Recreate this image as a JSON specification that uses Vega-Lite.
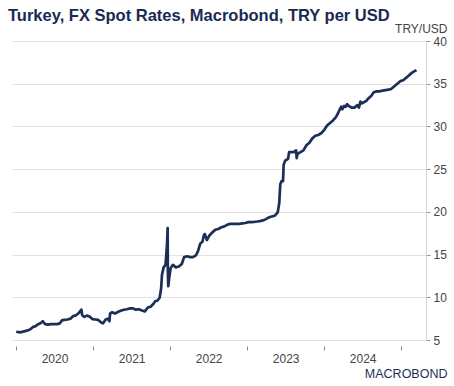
{
  "$schema": "https://vega.github.io/schema/vega-lite/v6.json",
  "width": 414,
  "height": 299,
  "autosize": "none",
  "padding": {"left": 12, "top": 41, "right": 28, "bottom": 46},
  "background": "white",
  "title": {
    "text": "Turkey, FX Spot Rates, Macrobond, TRY per USD",
    "anchor": "start",
    "frame": "group",
    "dx": -4,
    "offset": -2,
    "font": "Liberation Sans",
    "fontSize": 16.5,
    "fontWeight": "bold",
    "color": "#1a2b52"
  },
  "config": {
    "view": {"stroke": null},
    "axis": {"labelFont": "Liberation Sans", "titleFont": "Liberation Sans"}
  },
  "data": {
    "values": [
      {"date": "2020-01-02", "rate": 5.97},
      {"date": "2020-01-20", "rate": 5.90},
      {"date": "2020-02-03", "rate": 5.98},
      {"date": "2020-02-17", "rate": 6.07},
      {"date": "2020-03-02", "rate": 6.17},
      {"date": "2020-03-16", "rate": 6.40},
      {"date": "2020-03-23", "rate": 6.55},
      {"date": "2020-04-01", "rate": 6.60},
      {"date": "2020-04-15", "rate": 6.85},
      {"date": "2020-04-28", "rate": 7.00},
      {"date": "2020-05-07", "rate": 7.20},
      {"date": "2020-05-18", "rate": 6.85},
      {"date": "2020-06-01", "rate": 6.80},
      {"date": "2020-06-15", "rate": 6.85},
      {"date": "2020-07-01", "rate": 6.85},
      {"date": "2020-07-15", "rate": 6.86},
      {"date": "2020-07-27", "rate": 6.95},
      {"date": "2020-08-06", "rate": 7.30},
      {"date": "2020-08-17", "rate": 7.35},
      {"date": "2020-09-01", "rate": 7.40},
      {"date": "2020-09-15", "rate": 7.50},
      {"date": "2020-09-28", "rate": 7.80},
      {"date": "2020-10-12", "rate": 7.90},
      {"date": "2020-10-26", "rate": 8.20},
      {"date": "2020-11-06", "rate": 8.55},
      {"date": "2020-11-10", "rate": 7.90},
      {"date": "2020-11-20", "rate": 7.70},
      {"date": "2020-12-01", "rate": 7.85},
      {"date": "2020-12-15", "rate": 7.75},
      {"date": "2020-12-28", "rate": 7.45},
      {"date": "2021-01-11", "rate": 7.40},
      {"date": "2021-01-25", "rate": 7.35},
      {"date": "2021-02-08", "rate": 7.05},
      {"date": "2021-02-17", "rate": 6.95},
      {"date": "2021-03-01", "rate": 7.40},
      {"date": "2021-03-12", "rate": 7.50},
      {"date": "2021-03-19", "rate": 7.20},
      {"date": "2021-03-22", "rate": 8.10},
      {"date": "2021-04-01", "rate": 8.25},
      {"date": "2021-04-15", "rate": 8.10},
      {"date": "2021-04-30", "rate": 8.30},
      {"date": "2021-05-14", "rate": 8.45},
      {"date": "2021-05-28", "rate": 8.55},
      {"date": "2021-06-10", "rate": 8.60},
      {"date": "2021-06-25", "rate": 8.70},
      {"date": "2021-07-09", "rate": 8.70},
      {"date": "2021-07-23", "rate": 8.55},
      {"date": "2021-08-06", "rate": 8.60},
      {"date": "2021-08-20", "rate": 8.45},
      {"date": "2021-09-03", "rate": 8.35},
      {"date": "2021-09-17", "rate": 8.80},
      {"date": "2021-09-30", "rate": 8.90},
      {"date": "2021-10-14", "rate": 9.25},
      {"date": "2021-10-22", "rate": 9.55},
      {"date": "2021-11-01", "rate": 9.60},
      {"date": "2021-11-12", "rate": 9.95},
      {"date": "2021-11-19", "rate": 11.0},
      {"date": "2021-11-23", "rate": 12.6},
      {"date": "2021-12-01", "rate": 13.5},
      {"date": "2021-12-10", "rate": 13.8},
      {"date": "2021-12-17", "rate": 16.2},
      {"date": "2021-12-20", "rate": 18.1},
      {"date": "2021-12-21", "rate": 13.0},
      {"date": "2021-12-23", "rate": 11.3},
      {"date": "2021-12-28", "rate": 12.4},
      {"date": "2022-01-03", "rate": 13.4},
      {"date": "2022-01-14", "rate": 13.8},
      {"date": "2022-01-28", "rate": 13.5},
      {"date": "2022-02-11", "rate": 13.6},
      {"date": "2022-02-25", "rate": 13.9},
      {"date": "2022-03-08", "rate": 14.7},
      {"date": "2022-03-22", "rate": 14.8},
      {"date": "2022-04-05", "rate": 14.7},
      {"date": "2022-04-19", "rate": 14.7},
      {"date": "2022-05-03", "rate": 14.9},
      {"date": "2022-05-13", "rate": 15.4},
      {"date": "2022-05-24", "rate": 16.3},
      {"date": "2022-06-03", "rate": 16.5},
      {"date": "2022-06-10", "rate": 17.3},
      {"date": "2022-06-14", "rate": 17.4},
      {"date": "2022-06-24", "rate": 16.7},
      {"date": "2022-07-05", "rate": 17.2},
      {"date": "2022-07-20", "rate": 17.6},
      {"date": "2022-08-03", "rate": 17.9},
      {"date": "2022-08-17", "rate": 18.0},
      {"date": "2022-09-01", "rate": 18.2},
      {"date": "2022-09-15", "rate": 18.3},
      {"date": "2022-09-30", "rate": 18.5},
      {"date": "2022-10-14", "rate": 18.6},
      {"date": "2022-10-28", "rate": 18.6},
      {"date": "2022-11-11", "rate": 18.6},
      {"date": "2022-11-25", "rate": 18.6},
      {"date": "2022-12-09", "rate": 18.65},
      {"date": "2022-12-23", "rate": 18.7},
      {"date": "2023-01-06", "rate": 18.8},
      {"date": "2023-01-20", "rate": 18.8},
      {"date": "2023-02-03", "rate": 18.83},
      {"date": "2023-02-17", "rate": 18.87},
      {"date": "2023-03-03", "rate": 18.92},
      {"date": "2023-03-17", "rate": 19.0},
      {"date": "2023-03-31", "rate": 19.15},
      {"date": "2023-04-14", "rate": 19.35},
      {"date": "2023-04-28", "rate": 19.45},
      {"date": "2023-05-12", "rate": 19.55},
      {"date": "2023-05-26", "rate": 19.95},
      {"date": "2023-06-02", "rate": 21.0},
      {"date": "2023-06-07", "rate": 23.2},
      {"date": "2023-06-13", "rate": 23.6},
      {"date": "2023-06-20", "rate": 23.6},
      {"date": "2023-06-23", "rate": 25.5},
      {"date": "2023-06-30", "rate": 26.0},
      {"date": "2023-07-07", "rate": 26.1},
      {"date": "2023-07-14", "rate": 26.2},
      {"date": "2023-07-19", "rate": 27.0},
      {"date": "2023-07-31", "rate": 27.0},
      {"date": "2023-08-10", "rate": 27.0},
      {"date": "2023-08-21", "rate": 27.2},
      {"date": "2023-08-24", "rate": 26.3},
      {"date": "2023-08-28", "rate": 26.8},
      {"date": "2023-09-11", "rate": 27.0},
      {"date": "2023-09-25", "rate": 27.2},
      {"date": "2023-10-09", "rate": 27.8},
      {"date": "2023-10-23", "rate": 28.1},
      {"date": "2023-11-06", "rate": 28.6},
      {"date": "2023-11-20", "rate": 28.9},
      {"date": "2023-12-04", "rate": 29.0},
      {"date": "2023-12-18", "rate": 29.2},
      {"date": "2024-01-02", "rate": 29.6},
      {"date": "2024-01-15", "rate": 30.1},
      {"date": "2024-01-29", "rate": 30.4},
      {"date": "2024-02-12", "rate": 30.7},
      {"date": "2024-02-26", "rate": 31.1},
      {"date": "2024-03-08", "rate": 31.6},
      {"date": "2024-03-15", "rate": 32.0},
      {"date": "2024-03-22", "rate": 32.3},
      {"date": "2024-03-27", "rate": 32.0},
      {"date": "2024-04-05", "rate": 32.4},
      {"date": "2024-04-12", "rate": 32.3},
      {"date": "2024-04-19", "rate": 32.6},
      {"date": "2024-04-26", "rate": 32.4},
      {"date": "2024-05-03", "rate": 32.3},
      {"date": "2024-05-10", "rate": 32.2},
      {"date": "2024-05-24", "rate": 32.2},
      {"date": "2024-06-07", "rate": 32.5},
      {"date": "2024-06-14", "rate": 32.2},
      {"date": "2024-06-21", "rate": 32.9},
      {"date": "2024-06-28", "rate": 32.7},
      {"date": "2024-07-05", "rate": 32.8},
      {"date": "2024-07-19", "rate": 33.0},
      {"date": "2024-07-26", "rate": 33.2},
      {"date": "2024-08-12", "rate": 33.6},
      {"date": "2024-08-23", "rate": 34.0},
      {"date": "2024-09-06", "rate": 34.1},
      {"date": "2024-09-20", "rate": 34.1},
      {"date": "2024-10-04", "rate": 34.2},
      {"date": "2024-10-18", "rate": 34.25},
      {"date": "2024-11-01", "rate": 34.3},
      {"date": "2024-11-15", "rate": 34.4},
      {"date": "2024-11-29", "rate": 34.7},
      {"date": "2024-12-13", "rate": 35.0},
      {"date": "2024-12-27", "rate": 35.3},
      {"date": "2025-01-10", "rate": 35.4},
      {"date": "2025-01-24", "rate": 35.7},
      {"date": "2025-02-07", "rate": 36.0},
      {"date": "2025-02-21", "rate": 36.3},
      {"date": "2025-03-07", "rate": 36.5},
      {"date": "2025-03-14", "rate": 36.6}
    ]
  },
  "mark": {"type": "line", "color": "#1c2f56", "strokeWidth": 2.7, "strokeJoin": "round"},
  "encoding": {
    "x": {
      "field": "date",
      "type": "temporal",
      "scale": {"domain": [{"year": 2019, "month": 12, "date": 13}, {"year": 2025, "month": 4, "date": 28}]},
      "axis": {
        "values": [
          {"year": 2020, "month": 1, "date": 1},
          {"year": 2021, "month": 1, "date": 1},
          {"year": 2022, "month": 1, "date": 1},
          {"year": 2023, "month": 1, "date": 1},
          {"year": 2024, "month": 1, "date": 1},
          {"year": 2025, "month": 1, "date": 1}
        ],
        "labelExpr": "year(datum.value) >= 2025 ? '' : timeFormat(datum.value, '%Y')",
        "labelOffset": 38.5,
        "labelFontSize": 12,
        "labelColor": "#444444",
        "labelPadding": 3,
        "domain": false,
        "grid": false,
        "ticks": true,
        "tickSize": 4,
        "tickColor": "#888888",
        "offset": 6,
        "title": "MACROBOND",
        "titleFontSize": 12.5,
        "titleFontWeight": "normal",
        "titleColor": "#1f3158",
        "titleAnchor": "end",
        "titleAlign": "right",
        "titleBaseline": "alphabetic",
        "titleX": 435,
        "titleY": 31
      }
    },
    "y": {
      "field": "rate",
      "type": "quantitative",
      "scale": {"domain": [5, 40], "nice": false, "zero": false},
      "axis": {
        "orient": "right",
        "values": [5, 10, 15, 20, 25, 30, 35, 40],
        "grid": true,
        "gridColor": "#e2e2e2",
        "domain": true,
        "domainColor": "#d5d5d5",
        "ticks": true,
        "tickSize": 4,
        "tickColor": "#999999",
        "labelFontSize": 12,
        "labelColor": "#444444",
        "labelPadding": 3,
        "title": "TRY/USD",
        "titleAngle": 0,
        "titleFontSize": 12,
        "titleFontWeight": "normal",
        "titleColor": "#444444",
        "titleAlign": "right",
        "titleBaseline": "alphabetic",
        "titleX": 21,
        "titleY": -9
      }
    }
  }
}
